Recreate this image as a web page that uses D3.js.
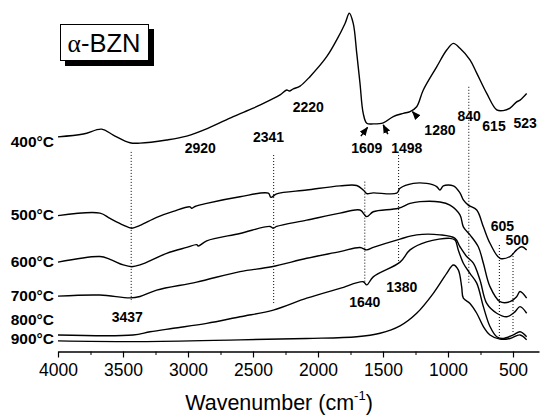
<!DOCTYPE html>
<html>
<head>
<meta charset="utf-8">
<script src="https://cdn.jsdelivr.net/npm/d3@7"></script>
<style>
  body { margin: 0; background: #fff; }
  svg { display: block; font-family: "Liberation Sans", Arial, sans-serif; }
</style>
</head>
<body>
<div id="chart"></div>
<script>
const width = 540
const height = 416

// FTIR spectra of alpha-BZN gel, [wavenumber (cm-1), transmittance (a.u., offset)]
const t400 = [[4000,60.9],[3805,61.7],[3664,63.1],[3575,61.4],[3446,59.2],[3369,59.1],[3164,60.0],[3010,61.1],
  [2848,63.3],[2652,66.7],[2498,69.1],[2369,71.4],[2292,72.9],[2241,74.3],[2220,74.0],[2190,74.6],[2138,75.4],
  [2062,78.1],[1933,83.8],[1856,88.6],[1792,93.3],[1759,96.2],[1729,93.3],[1702,84.8],[1677,76.2],[1652,67.6],
  [1625,64.8],[1575,64.6],[1498,64.9],[1421,66.7],[1344,67.6],[1292,68.1],[1241,69.5],[1190,74.3],[1087,80.9],
  [1010,85.7],[959,87.6],[908,86.2],[831,82.9],[779,79.1],[702,73.3],[625,68.6],[575,68.4],[523,69.1],[472,70.9],
  [446,71.4],[395,73.3]]
const t500 = [[4000,38.4],[3677,39.1],[3600,37.6],[3498,35.7],[3433,34.8],[3369,35.6],[3241,37.9],[3113,39.6],
  [2985,40.9],[2972,40.5],[2946,41.0],[2856,41.9],[2600,43.8],[2382,44.8],[2362,43.6],[2318,44.6],[2087,45.7],
  [1831,46.9],[1702,47.0],[1652,45.7],[1625,44.7],[1575,44.9],[1395,44.8],[1369,46.2],[1267,47.6],[1164,47.6],
  [1087,46.7],[1062,45.7],[1036,46.9],[959,46.9],[908,44.9],[882,42.9],[844,41.4],[779,40.0],[728,35.2],[677,30.5],
  [600,26.2],[523,26.7],[472,28.6],[433,29.5],[395,28.6]]
const t600 = [[4000,25.1],[3677,26.7],[3600,25.9],[3498,24.3],[3433,23.8],[3369,24.3],[3164,27.6],[3010,29.3],
  [2933,30.1],[2921,29.7],[2856,31.2],[2600,33.3],[2369,35.3],[2344,34.8],[2318,35.3],[2087,37.1],[1831,39.1],
  [1677,40.0],[1625,38.1],[1575,39.5],[1382,40.5],[1292,41.9],[1215,42.4],[1062,42.3],[985,41.4],[908,38.6],
  [882,35.2],[831,32.9],[767,29.5],[728,24.8],[677,18.1],[600,13.8],[523,13.8],[472,15.2],[446,16.7],[395,14.8]]
const t700 = [[4000,15.4],[3677,15.7],[3446,14.9],[3369,15.3],[3241,17.1],[2933,19.4],[2600,22.4],[2356,23.8],
  [2087,26.2],[1831,28.1],[1677,29.3],[1625,28.6],[1575,29.3],[1369,31.7],[1241,32.9],[1062,32.9],[946,31.9],
  [908,29.5],[856,26.7],[805,24.8],[754,20.0],[702,13.3],[625,10.5],[548,9.5],[485,10.9],[446,12.4],[395,10.5]]
const t800 = [[4000,4.3],[3423,4.3],[3292,5.2],[3113,6.2],[2856,7.6],[2600,9.5],[2344,11.4],[2087,14.8],
  [1831,17.6],[1652,19.5],[1625,18.6],[1575,20.9],[1369,25.1],[1292,28.6],[1164,30.9],[985,31.9],[946,31.4],
  [921,28.6],[882,24.8],[831,21.9],[779,19.1],[728,12.4],[677,6.7],[625,3.8],[575,3.3],[498,4.3],[446,5.2],[395,3.8]]
const t900 = [[4000,2.6],[3369,2.4],[2600,2.9],[2087,3.3],[1702,3.8],[1523,4.8],[1369,6.9],[1241,10.5],
  [1113,16.2],[1010,21.9],[959,24.3],[921,22.9],[895,18.1],[882,14.8],[831,13.3],[779,10.5],[728,6.7],
  [677,4.3],[600,3.1],[523,3.3],[446,4.3],[395,2.9]]

const temps = ["400°C", "500°C", "600°C", "700°C", "800°C", "900°C"]
const spectra = [t400, t500, t600, t700, t800, t900]

// marked bands (dotted guides) and annotated band numbers
const guideBands = [3437, 2341, 1640, 1380, 840, 605, 500]
const bandLabels = ["2920", "2341", "2220", "1609", "1498", "1280", "840", "615", "523",
  "3437", "1640", "1380", "605", "500"]
const arrowBands = [1609, 1498, 1280]

const majorTicks = [4000, 3500, 3000, 2500, 2000, 1500, 1000, 500]
const minorTicks = [3750, 3250, 2750, 2250, 1750, 1250, 750]

const x = d3.scaleLinear().domain([4000, 300]).range([58, 539])
const y = d3.scaleLinear().domain([0, 100]).range([350, 0])

const svg = d3.select("#chart")
  .append("svg")
  .attr("width", width)
  .attr("height", height)

svg.append("defs").append("marker")
  .attr("id", "head")
  .attr("viewBox", "0 0 10 10")
  .attr("refX", 9).attr("refY", 5)
  .attr("markerWidth", 6).attr("markerHeight", 6)
  .attr("orient", "auto")
  .append("path")
  .attr("d", "M0,1 L10,5 L0,9 Z")
  .attr("fill", "#000")

// dotted guides: [top value, bottom value] for each band
const guideSpan = [[56.6, 13.7], [55.7, 12.9], [48.1, 19.1], [55.7, 24.9], [75.2, 19.1], [30, 3.7], [27.7, 4.9]]
svg.append("g")
  .selectAll("line")
  .data(guideBands)
  .join("line")
  .attr("x1", d => x(d))
  .attr("x2", d => x(d))
  .attr("y1", (d, i) => y(guideSpan[i][0]))
  .attr("y2", (d, i) => y(guideSpan[i][1]))
  .attr("stroke", "#000")
  .attr("stroke-width", 1)
  .attr("stroke-dasharray", "1,2")

const line = d3.line()
  .x(d => x(d[0]))
  .y(d => y(d[1]))
  .curve(d3.curveCatmullRom.alpha(0.5))

svg.append("g")
  .selectAll("path")
  .data(spectra)
  .join("path")
  .attr("d", line)
  .attr("fill", "none")
  .attr("stroke", "#000")
  .attr("stroke-width", 1.4)
  .attr("stroke-linejoin", "round")

// temperature labels, left of each trace
const tempShift = [10, 4.5, 4.5, 4.5, -10, 3]
svg.append("g")
  .selectAll("text")
  .data(temps)
  .join("text")
  .attr("x", 54)
  .attr("y", (d, i) => y(spectra[i][0][1]) + tempShift[i])
  .attr("text-anchor", "end")
  .attr("font-size", 15.5)
  .attr("font-weight", "bold")
  .text(d => d)

// band numbers: [wavenumber at label centre, value at baseline]
const bandPos = [[2906, 56.3], [2380, 59.4], [2075, 68.0], [1625, 56.4], [1317, 56.4], [1062, 61.4], [838, 65.3],
  [646, 62.6], [407, 63.4], [3467, 8.1], [1640, 12.4], [1355, 16.7], [582, 33.9], [468, 30.0]]
svg.append("g")
  .selectAll("text")
  .data(bandLabels)
  .join("text")
  .attr("x", (d, i) => x(bandPos[i][0]))
  .attr("y", (d, i) => y(bandPos[i][1]))
  .attr("text-anchor", "middle")
  .attr("font-size", 14)
  .attr("font-weight", "bold")
  .text(d => d)

// small arrows pointing from the labels to the 400°C trace
const arrowFrom = [[1670, 61.1], [1463, 61.7], [1235, 66.5]]
const arrowTo = [[1619, 63.6], [1498, 64.3], [1273, 68.1]]
svg.append("g")
  .selectAll("line")
  .data(arrowBands)
  .join("line")
  .attr("x1", (d, i) => x(arrowFrom[i][0]))
  .attr("y1", (d, i) => y(arrowFrom[i][1]))
  .attr("x2", (d, i) => x(arrowTo[i][0]))
  .attr("y2", (d, i) => y(arrowTo[i][1]))
  .attr("stroke", "#000")
  .attr("stroke-width", 1.5)
  .attr("marker-end", "url(#head)")

// x axis
const axisG = svg.append("g")
  .attr("transform", "translate(0,351.5)")
  .call(d3.axisBottom(x).tickValues(majorTicks).tickFormat(d3.format("d"))
    .tickSizeInner(6).tickSizeOuter(0).tickPadding(6))
axisG.select(".domain").attr("stroke-width", 1.4)
axisG.selectAll(".tick line").attr("stroke-width", 1.2)
axisG.selectAll("text")
  .attr("font-size", 17.5)
  .attr("font-family", "Liberation Sans, Arial, sans-serif")
  .attr("fill", "#000")

svg.append("g")
  .attr("transform", "translate(0,351.5)")
  .call(d3.axisBottom(x).tickValues(minorTicks).tickSize(3.5).tickFormat(""))
  .call(g => g.select(".domain").remove())

const title = svg.append("text")
  .attr("x", 279)
  .attr("y", 410)
  .attr("text-anchor", "middle")
  .attr("font-size", 21.5)
title.append("tspan").text("Wavenumber  (cm")
title.append("tspan").attr("font-size", 13).attr("dy", -10).text("-1")
title.append("tspan").attr("dy", 10).text(")")

// legend box with shadow
const lg = svg.append("g")
lg.append("rect")
  .attr("x", 65).attr("y", 29)
  .attr("width", 89).attr("height", 37)
  .attr("fill", "#000")
lg.append("rect")
  .attr("x", 60.5).attr("y", 24.5)
  .attr("width", 88).attr("height", 36)
  .attr("fill", "#fff")
  .attr("stroke", "#000")
  .attr("stroke-width", 1)
const lt = lg.append("text")
  .attr("x", 104).attr("y", 52)
  .attr("text-anchor", "middle")
  .attr("font-size", 25.5)
lt.append("tspan").attr("font-family", "Liberation Serif, serif").text("α")
lt.append("tspan").text("-BZN")
</script>
</body>
</html>
